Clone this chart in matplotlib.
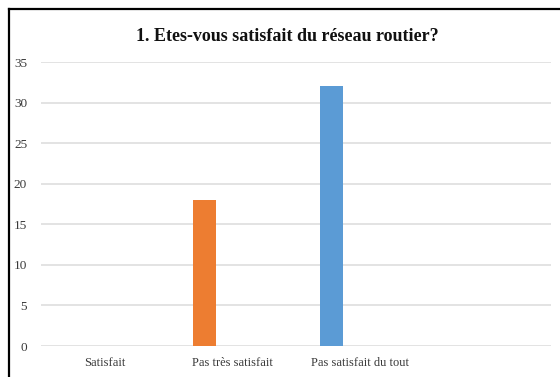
import matplotlib
matplotlib.use("Agg")
import matplotlib.pyplot as plt
from matplotlib.lines import Line2D
import numpy as np

categories = ["Satisfait", "Pas très satisfait", "Pas satisfait du tout", ""]
values = [0, 18, 32, 0]
bar_colors = ["#5B9BD5", "#ED7D31", "#5B9BD5", "#5B9BD5"]
yticks = [0, 5, 10, 15, 20, 25, 30, 35]
title = "1. Etes-vous satisfait du réseau routier?"

plt.rcParams["font.family"] = ["Liberation Serif", "DejaVu Serif"]

fig = plt.figure(figsize=(5.6, 3.77), dpi=100)
fig.patch.set_facecolor("white")
ax = fig.add_axes([0.0732, 0.0822, 0.9108, 0.7533])

x = np.arange(len(categories))
ax.bar(x - 0.22, values, width=0.18, color=bar_colors, zorder=3)

ax.set_xlim(-0.5, len(categories) - 0.5)
ax.set_ylim(0, 35)
ax.set_yticks(yticks)
ax.set_yticklabels([str(v) for v in yticks], fontsize=9.5, color="#3a3a3a")
ax.set_xticks(x)
ax.set_xticklabels(categories, fontsize=9, color="#3a3a3a")
ax.tick_params(axis="both", length=0)
ax.tick_params(axis="y", pad=10)
ax.tick_params(axis="x", pad=8)
ax.grid(axis="y", color="#dedede", linewidth=1.2, zorder=0)
for s in ax.spines.values():
    s.set_visible(False)

fig.text(0.514, 0.904, title, ha="center", va="center",
         fontsize=13, fontweight="bold", color="#111111")

# outer frame: top and left edges
fig.add_artist(Line2D([9/560, 1], [1 - 9/377] * 2, color="black", linewidth=1.6,
                      transform=fig.transFigure))
fig.add_artist(Line2D([9/560] * 2, [0, 1 - 9/377], color="black", linewidth=1.6,
                      transform=fig.transFigure))

fig.savefig("out.png", dpi=100)
